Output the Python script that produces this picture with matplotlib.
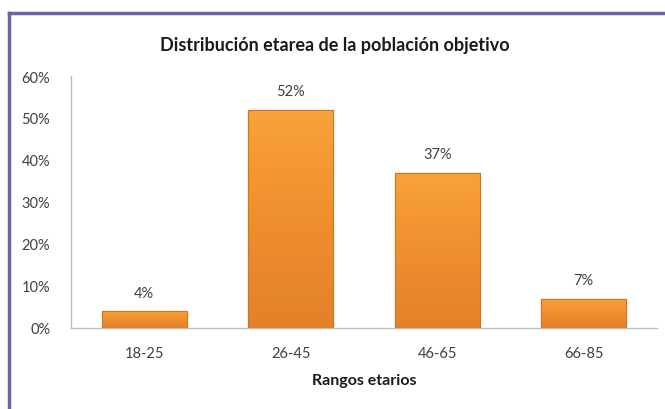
import matplotlib
matplotlib.use("Agg")
import matplotlib.pyplot as plt
import numpy as np
from matplotlib.colors import LinearSegmentedColormap
from matplotlib.patches import Rectangle

categories = ["18-25", "26-45", "46-65", "66-85"]
values = [0.04, 0.52, 0.37, 0.07]
yticks = [0, 0.1, 0.2, 0.3, 0.4, 0.5, 0.6]
ytick_labels = ["0%", "10%", "20%", "30%", "40%", "50%", "60%"]
title = "Distribución etarea de la población objetivo"
xlabel = "Rangos etarios"

plt.rcParams['font.family'] = ['Lato', 'DejaVu Sans']

fig = plt.figure(figsize=(6.65, 4.10), dpi=100)
W, H = 665, 410

# purple frame (top and left visible)
frame_color = "#6b64a8"
fig.add_artist(plt.Line2D([9/W, 9/W], [0, 1 - 14/H], transform=fig.transFigure,
                          color=frame_color, lw=2.5, solid_capstyle='projecting'))
fig.add_artist(plt.Line2D([9/W, 1.0], [1 - 14/H, 1 - 14/H], transform=fig.transFigure,
                          color=frame_color, lw=2.5, solid_capstyle='projecting'))

ax = fig.add_axes([71/W, 1 - 329/H, (657 - 71)/W, (329 - 77)/H])
x = np.arange(len(categories))
bars = ax.bar(x, values, width=0.58, color="#EE8B2C", edgecolor="#D9781F", linewidth=0.8, zorder=2)

cmap = LinearSegmentedColormap.from_list("org", ["#E2812A", "#EF8F2E", "#F9A23A"])
grad = np.linspace(0, 1, 256).reshape(-1, 1)
for b in bars:
    x0, y0, w, h = b.get_x(), b.get_y(), b.get_width(), b.get_height()
    im = ax.imshow(grad, cmap=cmap, aspect='auto', origin='lower',
                   extent=(x0, x0 + w, y0, y0 + h), zorder=3, interpolation='bilinear')
    im.set_clip_path(b)
    ax.add_patch(Rectangle((x0, y0), w, h, fill=False, edgecolor="#D47420", lw=0.8, zorder=4))

for xi, v in zip(x, values):
    ax.annotate(f"{round(v*100)}%", (xi, v), xytext=(0, 8), textcoords='offset points',
                ha='center', va='bottom', fontsize=10.5, color="#404040")

ax.set_xlim(-0.5, len(categories) - 0.5)
ax.set_ylim(0, 0.6)
ax.set_yticks(yticks)
ax.set_yticklabels(ytick_labels)
ax.set_xticks(x)
ax.set_xticklabels(categories)
ax.tick_params(axis='both', length=0, labelsize=10.5, colors="#404040")
ax.tick_params(axis='y', pad=15)
ax.tick_params(axis='x', pad=13)
for s in ['top', 'right']:
    ax.spines[s].set_visible(False)
for s in ['left', 'bottom']:
    ax.spines[s].set_color("#BFBFBF")
    ax.spines[s].set_linewidth(1)

ax.set_xlabel(xlabel, fontsize=11.5, fontweight='bold', color="#1a1a1a", labelpad=9)
fig.text(0.5 + 2/W, 1 - 45/H, title, ha='center', va='center', fontsize=13,
         fontweight='bold', color="#1a1a1a")

fig.savefig("out.png", dpi=100)
